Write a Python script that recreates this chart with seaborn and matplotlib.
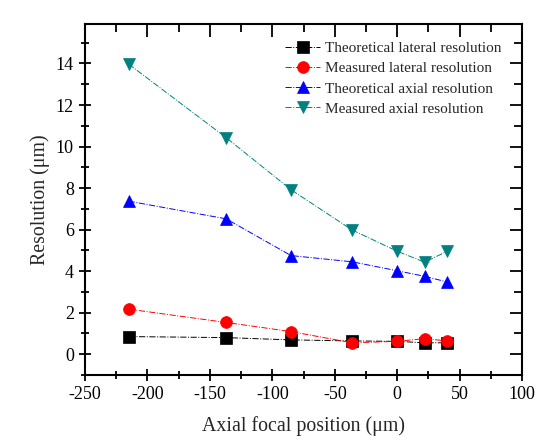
import matplotlib
matplotlib.use("Agg")
import matplotlib.pyplot as plt
import seaborn as sns
import pandas as pd
from matplotlib.ticker import MultipleLocator

positions = [-215, -137, -85, -36, 0, 22, 40]
theo_lateral = [0.85, 0.80, 0.69, 0.64, 0.62, 0.55, 0.55]
meas_lateral = [2.17, 1.53, 1.09, 0.55, 0.62, 0.75, 0.64]
theo_axial = [7.37, 6.52, 4.75, 4.45, 4.02, 3.75, 3.48]
meas_axial = [13.97, 10.43, 7.92, 5.98, 4.96, 4.43, 4.96]

series_names = ["Theoretical lateral resolution", "Measured lateral resolution",
                "Theoretical axial resolution", "Measured axial resolution"]
series_values = [theo_lateral, meas_lateral, theo_axial, meas_axial]
colors = ["black", "red", "blue", "#008080"]
markers = ["s", "o", "^", "v"]

sns.set_style("ticks")
plt.rcParams["font.family"] = ["Liberation Serif", "DejaVu Serif"]
plt.rcParams["axes.unicode_minus"] = False

fig = plt.figure(figsize=(5.36, 4.37), dpi=100)
ax = fig.add_axes([0.1586, 0.1419, 0.8154, 0.8031])

for name, vals, c, m in zip(series_names, series_values, colors, markers):
    df = pd.DataFrame({"x": positions, "y": vals})
    sns.lineplot(data=df, x="x", y="y", ax=ax, color=c, marker=m, markersize=8.5,
                 markeredgecolor=c, markeredgewidth=0.5,
                 linestyle="-.", linewidth=0.7, label=name)

ax.set_xlim(-250, 100)
ax.xaxis.set_major_locator(MultipleLocator(50))
ax.xaxis.set_minor_locator(MultipleLocator(25))
ax.yaxis.set_major_locator(MultipleLocator(2))
ax.yaxis.set_minor_locator(MultipleLocator(1))
ax.set_yticks(range(0, 15, 2))
ax.set_ylim(-1, 15.9)

for s in ax.spines.values():
    s.set_linewidth(1.5)
    s.set_color("black")

ax.tick_params(which="both", direction="inout", width=1.3, labelsize=13, colors="black",
               top=True, right=True)
ax.tick_params(which="major", length=9)
ax.tick_params(which="minor", length=6)
for t in ax.xaxis.get_major_ticks() + ax.xaxis.get_minor_ticks():
    t.tick2line.set_marker(3)
for t in ax.yaxis.get_major_ticks() + ax.yaxis.get_minor_ticks():
    t.tick2line.set_marker(0)

ax.set_xlabel("Axial focal position (μm)", fontsize=14.3, labelpad=9)
ax.set_ylabel("Resolution (μm)", fontsize=14.3, labelpad=4)

leg = ax.legend(loc="upper right", bbox_to_anchor=(0.984, 0.989), frameon=False,
                fontsize=11, handlelength=2.3, labelspacing=0.42, handletextpad=0.3,
                markerscale=1.0)

fig.savefig("out.png", dpi=100)
